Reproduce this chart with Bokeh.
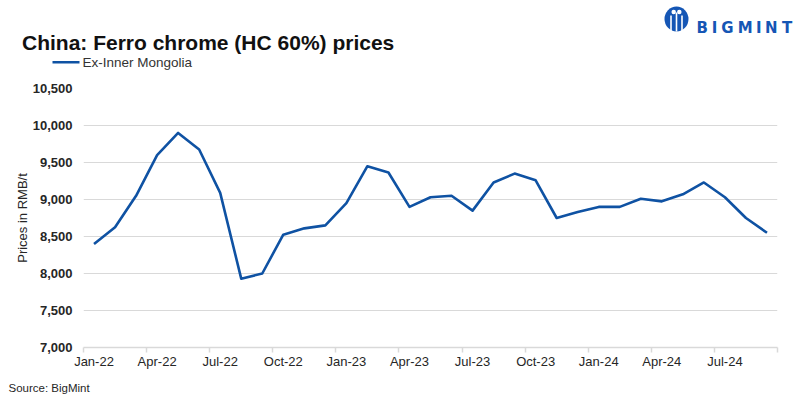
import numpy as np
import pandas as pd
from bokeh.plotting import figure
from bokeh.core.properties import value
from bokeh.models import FixedTicker, Range1d, NumeralTickFormatter
from bokeh.embed import file_html
from bokeh.resources import INLINE

# ---- data ----
months = list(pd.date_range("2022-01-01", periods=33, freq="MS").strftime("%b-%y"))
prices = [8400, 8625, 9050, 9600, 9900, 9675, 9090, 7930, 8000, 8525, 8610, 8650,
          8950, 9450, 9365, 8900, 9030, 9050, 8850, 9230, 9350, 9260, 8750, 8830,
          8900, 8900, 9010, 8975, 9070, 9230, 9030, 8750, 8550]
series_name = "Ex-Inner Mongolia"
title_text = "China: Ferro chrome (HC 60%) prices"
source_text = "Source: BigMint"
y_ticks = [7000, 7500, 8000, 8500, 9000, 9500, 10000, 10500]
x_label_idx = list(range(0, len(months), 3))

FONT = "Liberation Sans"
TXT = "#262626"
BLUE = "#0f52a3"
LOGO = "#1556b5"
GRID = "#d9d9d9"
W = 800
HEAD_H, MAIN_H, FOOT_H = 70, 306, 23


def blank(h):
    f = figure(width=W, height=h, output_backend="svg", toolbar_location=None,
               x_range=Range1d(0, W), y_range=Range1d(h, 0),
               min_border=0, min_border_left=0, min_border_right=0,
               min_border_top=0, min_border_bottom=0)
    f.axis.visible = False
    f.grid.visible = False
    f.outline_line_color = None
    f.background_fill_color = "white"
    f.border_fill_color = "white"
    return f


# ---- header: title, legend, logo ----
head = blank(HEAD_H)
head.text(x=[21.5], y=[41.5], text=[title_text], text_font=value(FONT),
          text_font_style="bold", text_font_size="21px", text_color="#111111",
          text_baseline="alphabetic")
head.segment(x0=[52], y0=[61.7], x1=[79], y1=[61.7], line_color=BLUE, line_width=2.6)
head.text(x=[82], y=[61.7], text=[series_name], text_font=value(FONT),
          text_font_size="13.5px", text_color="#333333", text_baseline="middle")
# logo
head.ellipse(x=[676], y=[18.5], width=24, height=25, fill_color=LOGO, line_color=None)
head.segment(x0=[670.5, 676, 681.5], y0=[15, 12, 15], x1=[670.5, 676, 681.5],
             y1=[31, 31, 31], line_color="white", line_width=1.6)
head.ellipse(x=[673.2, 678.8], y=[11.5, 11.5], width=4.5, height=4.5,
             fill_color="white", line_color=None)
logo_letters = list("BIGMINT")
logo_x = [701.7, 714.0, 726.8, 744.6, 758.4, 770.7, 786.5]
head.text(x=logo_x, y=[27.3] * 7, text=logo_letters, text_font=value("DejaVu Sans"),
          text_font_style="bold", text_font_size="15px", text_color=LOGO,
          text_align="center", text_baseline="alphabetic")

# ---- main chart ----
p = figure(width=W, height=MAIN_H, output_backend="svg", toolbar_location=None,
           x_range=Range1d(-0.5, len(months) - 0.5), y_range=Range1d(7000, 10500),
           min_border_left=83, min_border_right=23, min_border_top=18,
           min_border_bottom=29)
p.outline_line_color = None
p.background_fill_color = "white"
p.border_fill_color = "white"

x = list(range(len(months)))
p.line(x, prices, line_color=BLUE, line_width=2.6, line_join="round")

p.xgrid.visible = False
p.ygrid.ticker = FixedTicker(ticks=y_ticks)
p.ygrid.grid_line_color = GRID
p.ygrid.grid_line_width = 1

ya = p.yaxis[0]
ya.ticker = FixedTicker(ticks=y_ticks)
ya.formatter = NumeralTickFormatter(format="0,0")
ya.axis_line_color = None
ya.major_tick_line_color = None
ya.minor_tick_line_color = None
ya.major_tick_out = 0
ya.major_tick_in = 0
ya.major_label_standoff = 11
ya.major_label_text_font = FONT
ya.major_label_text_font_style = "bold"
ya.major_label_text_font_size = "13px"
ya.major_label_text_color = TXT
ya.axis_label = "Prices in RMB/t"
ya.axis_label_text_font = FONT
ya.axis_label_text_font_style = "normal"
ya.axis_label_text_font_size = "13px"
ya.axis_label_text_color = TXT
ya.axis_label_standoff = 0

xa = p.xaxis[0]
minor = [i - 0.5 for i in x_label_idx] + [len(months) - 0.5]
xa.ticker = FixedTicker(ticks=x_label_idx, minor_ticks=minor)
xa.major_label_overrides = {i: months[i] for i in x_label_idx}
xa.axis_line_color = GRID
xa.axis_line_width = 1.5
xa.major_tick_line_color = None
xa.major_tick_out = 0
xa.major_tick_in = 0
xa.minor_tick_line_color = GRID
xa.minor_tick_line_width = 1.5
xa.minor_tick_out = 5
xa.minor_tick_in = 0
xa.major_label_standoff = 1
xa.major_label_text_font = FONT
xa.major_label_text_font_size = "13px"
xa.major_label_text_color = TXT

# ---- footer ----
foot = blank(FOOT_H)
foot.text(x=[8], y=[11], text=[source_text], text_font=value(FONT),
          text_font_size="11.5px", text_color=TXT, text_baseline="alphabetic")

open("out.html", "w").write(file_html([head, p, foot], INLINE))
